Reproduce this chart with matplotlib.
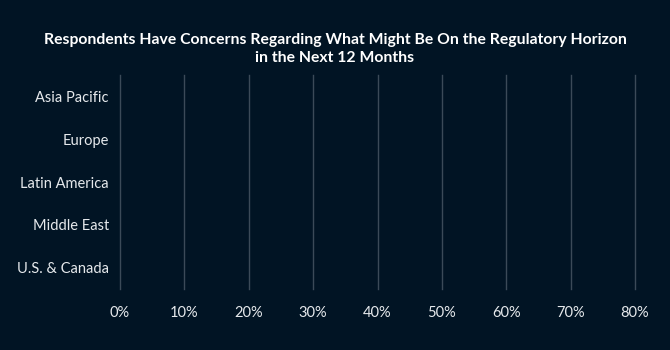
import matplotlib
matplotlib.use("Agg")
import matplotlib.pyplot as plt
from matplotlib.ticker import FuncFormatter

categories = ["Asia Pacific", "Europe", "Latin America", "Middle East", "U.S. & Canada"]
values = [0, 0, 0, 0, 0]
x_ticks = [0, 10, 20, 30, 40, 50, 60, 70, 80]
title = "Respondents Have Concerns Regarding What Might Be On the Regulatory Horizon\nin the Next 12 Months"

bg = "#011424"
grid_c = "#3b4a58"
txt_c = "#e6e9ec"

plt.rcParams['font.family'] = ['Lato', 'DejaVu Sans']

fig = plt.figure(figsize=(6.7, 3.5), dpi=100, facecolor=bg)
W, H = 670, 350
ax = fig.add_axes([120 / W, 1 - 289 / H, (635 - 120) / W, (289 - 75) / H], facecolor=bg)

y = list(range(len(categories)))
ax.barh(y, values, height=0.6, color="#2a9fd6")
ax.set_yticks(y)
ax.set_yticklabels(categories)
ax.set_ylim(len(categories) - 0.5, -0.5)
ax.set_xlim(0, 80)
ax.set_xticks(x_ticks)
ax.xaxis.set_major_formatter(FuncFormatter(lambda v, p: f"{v:.0f}%"))
ax.grid(axis="x", color=grid_c, linewidth=1)
for gl in ax.xaxis.get_gridlines():
    gl.set_clip_on(False)
ax.set_axisbelow(True)
for s in ax.spines.values():
    s.set_visible(False)
ax.tick_params(axis="both", length=0, colors=txt_c, labelsize=10.5)
ax.tick_params(axis="y", pad=8)
ax.tick_params(axis="x", pad=12)

fig.text(335 / W, 1 - 49 / H, title, ha="center", va="center", color="white",
         fontsize=11.3, fontweight="bold", linespacing=1.35)

fig.savefig("out.png", dpi=100, facecolor=bg)
